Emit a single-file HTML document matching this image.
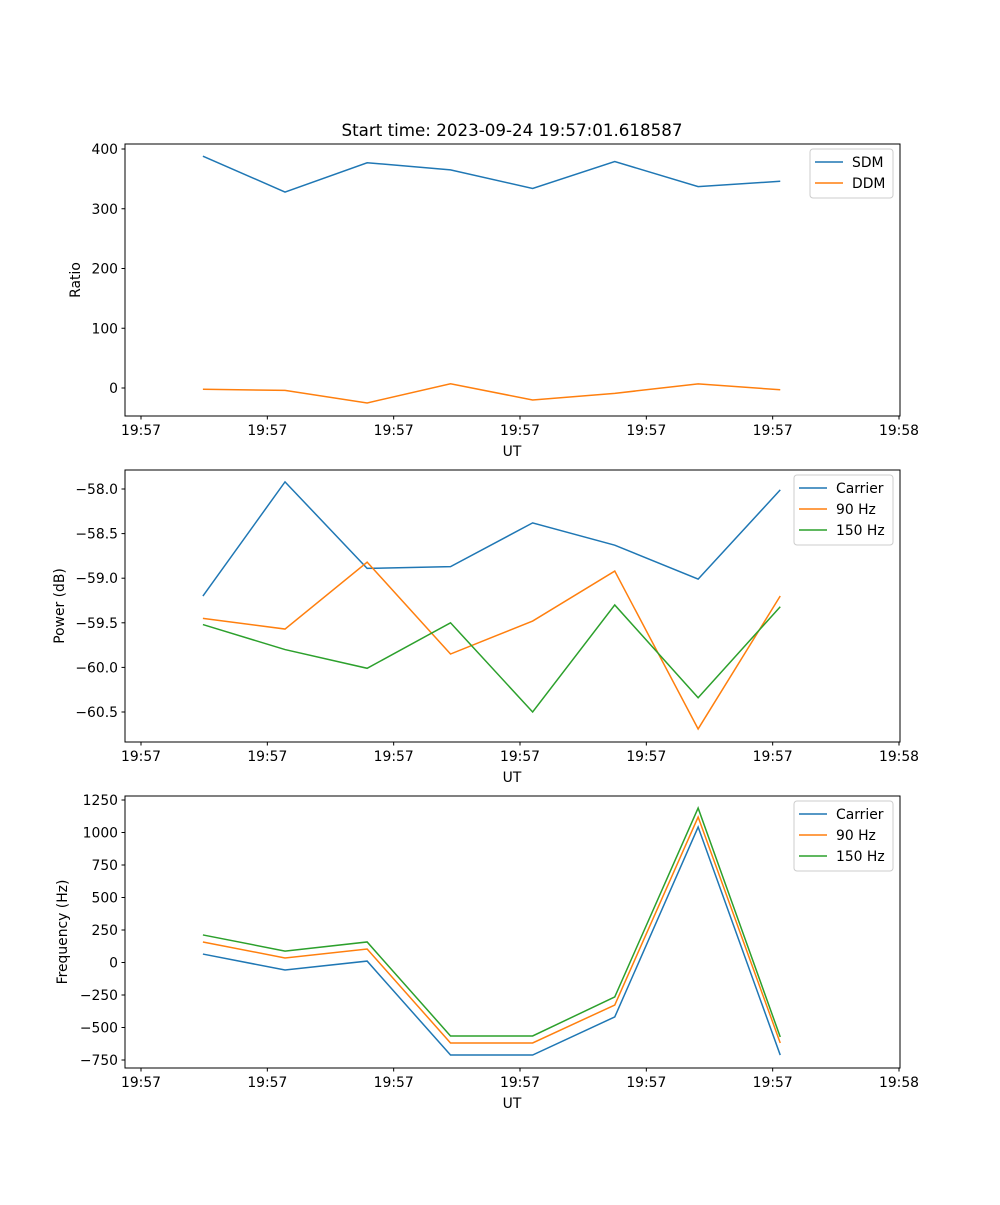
<!DOCTYPE html>
<html><head><meta charset="utf-8"><style>body{margin:0;background:#fff}svg{font-family:"DejaVu Sans","Liberation Sans",sans-serif}</style></head>
<body>
<svg id="c" width="1000" height="1200" xmlns="http://www.w3.org/2000/svg"></svg>
<script>
const times=[4.9,11.4,17.9,24.5,31.0,37.5,44.1,50.6];
const xTickVals=[0,10,20,30,40,50,60];
const xTickLabels=["19:57","19:57","19:57","19:57","19:57","19:57","19:58"];
const sdm=[388,328,377,365,334,379,337,346];
const ddm=[-2,-4,-25,7,-20,-9,7,-3];
const pCarrier=[-59.20,-57.92,-58.89,-58.87,-58.38,-58.63,-59.01,-58.01];
const p90=[-59.45,-59.57,-58.82,-59.85,-59.48,-58.92,-60.69,-59.20];
const p150=[-59.52,-59.80,-60.01,-59.50,-60.50,-59.30,-60.34,-59.32];
const fCarrier=[65,-58,11,-712,-712,-419,1042,-712];
const f90=[158,35,104,-619,-619,-327,1119,-619];
const f150=[212,88,158,-565,-565,-265,1188,-573];
const yTicks1=[0,100,200,300,400];
const yTicks2=[-60.5,-60.0,-59.5,-59.0,-58.5,-58.0];
const yTicks3=[-750,-500,-250,0,250,500,750,1000,1250];
const C=["#1f77b4","#ff7f0e","#2ca02c"];
const svg=document.getElementById('c');
const NS="http://www.w3.org/2000/svg";
function el(t,a,p){const e=document.createElementNS(NS,t);for(const k in a)e.setAttribute(k,a[k]);(p||svg).appendChild(e);return e;}
const X0=125,X1=900;
const xs=v=>141+(v-0)*(899-141)/60;
function panel(id,top,bot,yv0,yp0,yv1,yp1,ticks,fmt,ylabel,series,names,legend){
  const g=el('g',{});
  
  
  const ys=v=>yp0+(v-yv0)*(yp1-yp0)/(yv1-yv0);
  series.forEach((s,i)=>{
    const pl=el('polyline',{points:s.map((v,j)=>xs(times[j])+','+ys(v)).join(' '),fill:'none',stroke:C[i],'stroke-width':1.5},g);
    
    
  });
  el('rect',{x:X0,y:top,width:X1-X0,height:bot-top,fill:'none',stroke:'#000','stroke-width':1},g);
  xTickVals.forEach((v,i)=>{const x=xs(v);el('line',{x1:x,x2:x,y1:bot,y2:bot+3.5,stroke:'#000','stroke-width':1},g);
    const t=el('text',{x:x,y:bot+19,'font-size':13.9,'text-anchor':'middle'},g);t.textContent=xTickLabels[i];
    });
  ticks.forEach(v=>{const y=ys(v);el('line',{x1:X0,x2:X0-3.5,y1:y,y2:y,stroke:'#000','stroke-width':1},g);
    const t=el('text',{x:X0-7,y:y+5,'font-size':13.9,'text-anchor':'end'},g);t.textContent=fmt(v);
    });
  const xl=el('text',{x:512,y:bot+40,'font-size':13.9,'text-anchor':'middle'},g);xl.textContent='UT';
  
  const yc=(top+bot)/2;
  const yl=el('text',{x:0,y:0,'font-size':13.9,'text-anchor':'middle',transform:`translate(${legend.yx},${yc}) rotate(-90)`},g);yl.textContent=ylabel;
  
  const lg=el('g',{},g);
  
  el('rect',{x:legend.x,y:top+5,width:X1-7-legend.x,height:names.length*21+7,rx:3,fill:'#fff',stroke:'#ccc','stroke-width':1},lg);
  names.forEach((n,i)=>{const y=top+18+i*21;
    el('line',{x1:legend.x+5,x2:legend.x+33,y1:y,y2:y,stroke:C[i],'stroke-width':1.5},lg);
    const t=el('text',{x:legend.x+42,y:y+5,'font-size':13.9},lg);t.textContent=n;
    });
}
const tt=el('text',{x:512,y:136,'font-size':16.7,'text-anchor':'middle'});tt.textContent='Start time: 2023-09-24 19:57:01.618587';

panel('ratio-panel',144,416,0,388,400,149,yTicks1,v=>v.toString().replace('-','−'),'Ratio',[sdm,ddm],['SDM','DDM'],{x:810,yx:80});
panel('power-panel',470,742,-58,489,-60.5,712,yTicks2,v=>v.toFixed(1).replace('-','−'),'Power (dB)',[pCarrier,p90,p150],['Carrier','90 Hz','150 Hz'],{x:794,yx:64});
panel('frequency-panel',796,1068,1250,800,-750,1060,yTicks3,v=>v.toString().replace('-','−'),'Frequency (Hz)',[fCarrier,f90,f150],['Carrier','90 Hz','150 Hz'],{x:794,yx:67});
</script>
</body></html>
